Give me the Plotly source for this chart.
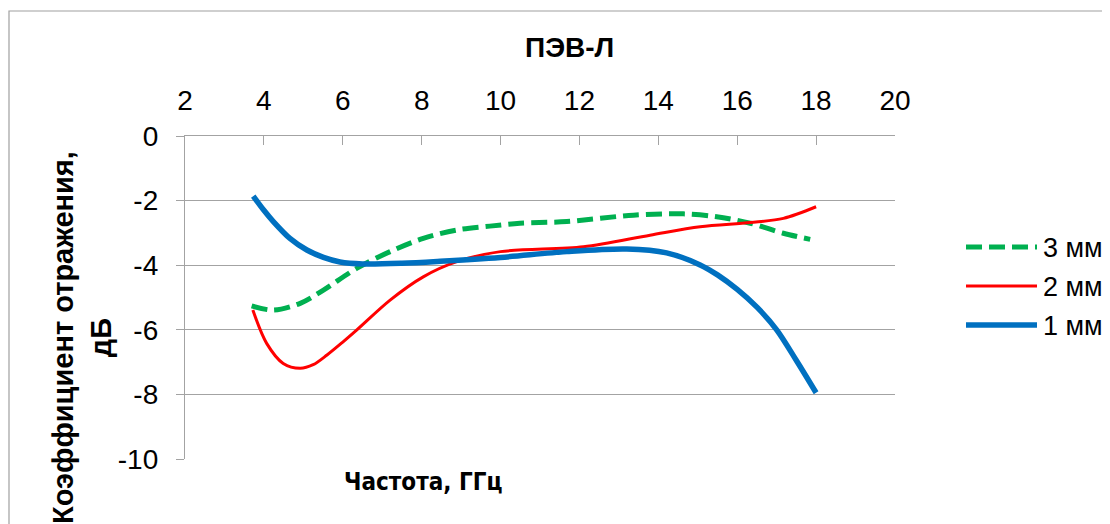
import plotly.graph_objects as go

# ---- data ----
names = ["3 мм", "2 мм", "1 мм"]
x_3mm = [3.69, 4.24, 4.92, 5.51, 6.35, 7.2, 8.04, 8.89, 9.73, 10.49, 11.68, 13.37, 14.63, 15.48, 16.33, 17.17, 17.85]
y_3mm = [-5.26, -5.39, -5.18, -4.77, -4.10, -3.58, -3.17, -2.91, -2.79, -2.70, -2.65, -2.45, -2.41, -2.50, -2.70, -3.01, -3.20]
x_2mm = [3.72, 4.07, 4.49, 4.92, 5.25, 5.6, 6.0, 6.35, 7.20, 8.04, 8.89, 10.0, 12.1, 13.79, 15.06, 16.33, 17.17, 18.0]
y_2mm = [-5.39, -6.42, -7.04, -7.19, -7.08, -6.78, -6.38, -6.01, -5.08, -4.36, -3.89, -3.58, -3.43, -3.07, -2.81, -2.68, -2.55, -2.19]
x_1mm = [3.73, 4.0, 4.24, 4.66, 5.09, 5.51, 5.93, 6.5, 7.5, 8.47, 10.0, 11.68, 13.2, 14.21, 15.06, 15.5, 16.0, 16.5, 17.0, 17.5, 18.0]
y_1mm = [-1.86, -2.30, -2.65, -3.17, -3.53, -3.76, -3.90, -3.96, -3.94, -3.88, -3.76, -3.58, -3.50, -3.62, -3.99, -4.30, -4.75, -5.30, -6.00, -6.95, -7.95]
x_ticks = [2, 4, 6, 8, 10, 12, 14, 16, 18, 20]
y_ticks = [0, -2, -4, -6, -8, -10]

title = "ПЭВ-Л"
x_title = "Частота, ГГц"
y_title = "Коэффициент отражения,<br>дБ"

# ---- styles ----
colors = ["#00B050", "#FF0000", "#0070C0"]
widths = [5, 3, 5.5]
dashes = ["16px,7px", "solid", "solid"]
FONT = "Liberation Sans, Arial, sans-serif"
GRID = "#A3A3A3"

OFF = 8  # page body margin
W, H = 1110, 524
L, R, T, B = 185, 895, 136, 459  # plot area pixel box in the screenshot


def px(xp):
    return (xp - L) / (R - L)


def py(yp):
    return (B - yp) / (B - T)


fig = go.Figure()
series = [(x_3mm, y_3mm), (x_2mm, y_2mm), (x_1mm, y_1mm)]
for (xs, ys), n, c, w, d in zip(series, names, colors, widths, dashes):
    fig.add_trace(go.Scatter(x=xs, y=ys, mode="lines", name=n, showlegend=False,
                             line=dict(color=c, width=w, dash=d, shape="spline", smoothing=0.9)))

shapes = [dict(type="rect", xref="paper", yref="paper",
               x0=px(9), x1=px(1130), y0=py(540), y1=py(11),
               line=dict(color="#A0A0A0", width=1.2), fillcolor="rgba(0,0,0,0)", layer="below")]
annotations = []
leg_y = [247, 286, 325]
for n, c, w, d, yy in zip(names, colors, widths, dashes, leg_y):
    shapes.append(dict(type="line", xref="paper", yref="paper",
                       x0=px(966), x1=px(1037), y0=py(yy), y1=py(yy),
                       line=dict(color=c, width=w, dash=d)))
    annotations.append(dict(text=n, xref="paper", yref="paper", x=px(1041), y=py(yy + 1),
                            xanchor="left", yanchor="middle", showarrow=False,
                            font=dict(family=FONT, size=27, color="#000")))

annotations.append(dict(text="<b>" + title + "</b>", xref="paper", yref="paper",
                        x=px(569), y=py(48), xanchor="center", yanchor="middle",
                        showarrow=False, font=dict(family=FONT, size=28, color="#000")))
annotations.append(dict(text="<b>" + x_title + "</b>", xref="paper", yref="paper",
                        x=px(423), y=py(482), xanchor="center", yanchor="middle",
                        showarrow=False,
                        font=dict(family="Liberation Sans Narrow, DejaVu Sans Condensed, sans-serif",
                                  size=24, color="#000")))
annotations.append(dict(text="<b>" + y_title + "</b>", xref="paper", yref="paper",
                        x=px(82), y=py(338), xanchor="center", yanchor="middle",
                        textangle=-90, showarrow=False,
                        font=dict(family=FONT, size=29, color="#000")))

fig.update_layout(
    width=W - OFF, height=H - OFF, autosize=False,
    margin=dict(l=L - OFF, r=W - R, t=T - OFF, b=H - B, pad=0),
    paper_bgcolor="white", plot_bgcolor="white",
    shapes=shapes, annotations=annotations,
    xaxis=dict(range=[2, 20], side="top", tickvals=x_ticks, ticktext=[str(v) for v in x_ticks],
               showgrid=False, zeroline=False, showline=True, linecolor=GRID, linewidth=1.3,
               ticks="inside", ticklen=9, tickcolor=GRID, tickwidth=1.3,
               ticklabelstandoff=14,
               tickfont=dict(family=FONT, size=28, color="#000")),
    yaxis=dict(range=[-10, 0], tickvals=y_ticks, ticktext=[str(v) for v in y_ticks],
               showgrid=True, gridcolor=GRID, gridwidth=1.3, zeroline=False,
               showline=True, linecolor=GRID, linewidth=1.3,
               ticks="outside", ticklen=8, tickcolor=GRID, tickwidth=1.3,
               ticklabelstandoff=12,
               tickfont=dict(family=FONT, size=28, color="#000")),
)

fig.write_html("out.html")
